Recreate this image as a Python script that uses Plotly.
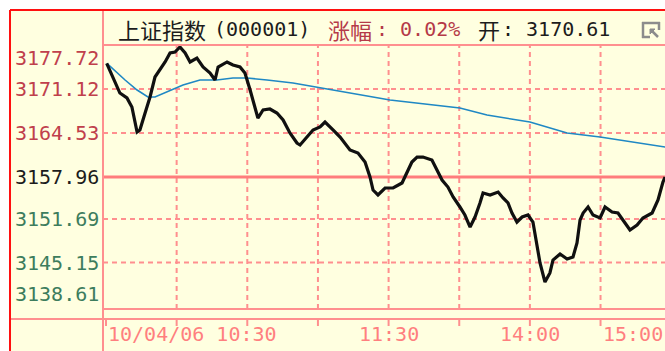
import plotly.graph_objects as go

# ---------------- data ----------------
# trading minutes since 09:30 (lunch break removed; 120 = 11:30/13:00, 240 = 15:00)
price_min = [0.3, 3.0, 5.9, 8.9, 11.0, 13.2, 14.4, 16.6, 18.7, 20.8, 22.9, 25.1, 27.2, 29.3,
             31.4, 33.6, 35.7, 38.6, 41.2, 44.2, 46.3, 47.6, 51.4, 53.9, 56.9, 59.0, 61.2,
             63.3, 64.5, 66.7, 69.6, 72.6, 75.2, 78.1, 81.1, 82.4, 85.4, 87.9, 90.9, 93.0,
             96.4, 99.4, 103.6, 107.0, 110.0, 112.1, 113.4, 115.5, 118.5, 121.9, 125.7,
             127.8, 129.9, 132.1, 134.6, 138.4, 140.6, 142.7, 145.2, 147.4, 150.3, 152.4,
             154.6, 156.7, 158.8, 160.1, 163.1, 166.5, 168.6, 170.7, 172.4, 174.5, 176.7,
             179.2, 181.3, 183.0, 184.3, 186.4, 188.5, 189.8, 192.8, 195.8, 198.3, 200.0,
             201.3, 202.6, 204.7, 206.8, 209.8, 211.9, 214.9, 217.4, 220.4, 222.5, 225.5,
             228.0, 231.9, 234.4, 236.5, 237.4]
price_val = [3174.98, 3172.93, 3170.53, 3169.79, 3168.44, 3164.70, 3165.00, 3167.54, 3169.94,
             3172.93, 3173.98, 3175.18, 3176.52, 3176.67, 3177.42, 3176.52, 3175.18, 3175.77,
             3174.43, 3173.53, 3172.48, 3174.43, 3175.18, 3174.73, 3174.43, 3173.53, 3170.98,
             3168.44, 3166.79, 3167.99, 3168.14, 3167.54, 3166.49, 3164.55, 3163.05, 3162.75,
             3163.95, 3165.00, 3165.45, 3166.19, 3165.00, 3163.95, 3162.00, 3161.55, 3160.21,
             3157.96, 3156.01, 3155.27, 3156.31, 3156.31, 3157.06, 3158.71, 3160.21, 3160.95,
             3160.95, 3160.50, 3159.01, 3157.51, 3156.46, 3154.97, 3153.47, 3152.27, 3150.47,
             3151.97, 3154.07, 3155.56, 3155.27, 3155.71, 3154.82, 3154.07, 3152.57, 3151.22,
             3151.97, 3152.27, 3151.22, 3148.08, 3145.09, 3142.24, 3143.59, 3145.53, 3146.43,
             3145.68, 3145.98, 3148.08, 3151.52, 3152.57, 3153.47, 3152.27, 3151.82, 3153.47,
             3152.72, 3152.57, 3151.07, 3150.03, 3150.77, 3151.82, 3152.57, 3154.52, 3157.21,
             3157.96]

avg_min = [0.4, 8.1, 13.2, 17.8, 20.8, 25.9, 32.7, 39.9, 47.1, 53.9, 59.9, 68.4, 79.4,
           120.6, 138.9, 150.3, 161.8, 180.0, 195.8, 209.8, 237.4]
avg_val = [3174.98, 3172.48, 3170.98, 3169.94, 3169.94, 3170.68, 3171.73, 3172.48, 3172.48,
           3172.78, 3172.78, 3172.48, 3172.03, 3169.49, 3168.74, 3168.29, 3167.24, 3166.19,
           3164.55, 3163.95, 3162.45]

prev_close = 3157.96
y_ticks = [3177.72, 3171.12, 3164.53, 3157.96, 3151.69, 3145.15, 3138.61]
y_tick_text = ["3177.72", "3171.12", "3164.53", "3157.96", "3151.69", "3145.15", "3138.61"]
grid_minutes = [30, 60, 90, 120, 150, 180, 210]
tick_minutes = [0, 30, 60, 90, 120, 150, 180, 210]
x_label_minutes = [60, 120, 180, 240]
x_labels = ["10/04/06 10:30", "11:30", "14:00", "15:00"]

title_name = "上证指数"
title_code = "(000001)"
chg_label = "涨幅"
chg_value = ": 0.02%"
open_label = "开"
open_value = ": 3170.61"

# ---------------- layout helpers ----------------
W, H = 665, 351
L, R, T, B = 103, 0, 45, 42
PW, PH = W - L - R, H - T - B
X0_MIN, X1_MIN = -1.27, 237.37


def px(x):
    return (x - L) / PW


def py(y):
    return (H - B - y) / PH


def minute_to_paper(m):
    return (m - X0_MIN) / (X1_MIN - X0_MIN)


MONO = "DejaVu Sans Mono"
CJK = "Noto Sans CJK SC"
BG = "#ffffe0"
PINK = "#ff8f8f"
RED_T = "#c0404c"
GREEN_T = "#3d7d5d"
BLACK_T = "#1c1c1c"

fig = go.Figure()
fig.add_trace(go.Scatter(x=avg_min, y=avg_val, mode="lines",
                         line=dict(color="#1f88c4", width=1.6), hoverinfo="skip"))
fig.add_trace(go.Scatter(x=price_min, y=price_val, mode="lines",
                         line=dict(color="#101010", width=3.2), hoverinfo="skip"))

shapes = []
# yellow panel
shapes.append(dict(type="rect", xref="paper", yref="paper", x0=px(10), x1=px(W + 5),
                   y0=py(H + 5), y1=py(10), fillcolor=BG, line=dict(width=0), layer="below"))
# horizontal grid
for v in y_ticks[1:-1]:
    if v == prev_close:
        continue
    shapes.append(dict(type="line", xref="paper", yref="y", x0=0, x1=1, y0=v, y1=v,
                       line=dict(color=PINK, width=2, dash="5px,4px"), layer="below"))
# vertical grid
for m in grid_minutes:
    shapes.append(dict(type="line", xref="x", yref="paper", x0=m, x1=m, y0=0, y1=1,
                       line=dict(color=PINK, width=2, dash="5px,4px"), layer="below"))
# previous close solid line
shapes.append(dict(type="line", xref="paper", yref="y", x0=0, x1=1, y0=prev_close, y1=prev_close,
                   line=dict(color="#ff7c7c", width=3), layer="below"))
# frame lines
shapes += [
    dict(type="line", xref="paper", yref="paper", x0=px(103), x1=px(103), y0=py(10), y1=py(H + 2),
         line=dict(color=PINK, width=2), layer="above"),
    dict(type="line", xref="paper", yref="paper", x0=px(103), x1=px(W + 2), y0=py(45), y1=py(45),
         line=dict(color=PINK, width=2), layer="above"),
    dict(type="line", xref="paper", yref="paper", x0=px(103), x1=px(W + 2), y0=py(309), y1=py(309),
         line=dict(color=PINK, width=2), layer="above"),
    dict(type="line", xref="paper", yref="paper", x0=px(10), x1=px(W + 2), y0=py(319), y1=py(319),
         line=dict(color=PINK, width=2), layer="above"),
    dict(type="line", xref="paper", yref="paper", x0=px(10), x1=px(W + 2), y0=py(10), y1=py(10),
         line=dict(color="#ff1010", width=2), layer="above"),
    dict(type="line", xref="paper", yref="paper", x0=px(10), x1=px(10), y0=py(10), y1=py(H + 2),
         line=dict(color="#ff1010", width=2), layer="above"),
]
# axis ticks
for m in tick_minutes:
    shapes.append(dict(type="line", xref="x", yref="paper", x0=m, x1=m, y0=py(319), y1=py(326),
                       line=dict(color=PINK, width=2), layer="above"))
# icon at top right
ICON = "#8c8c8c"
icon_lines = [(642, 23, 660, 23), (643, 22, 643, 38), (642, 37, 650, 37), (659, 22, 659, 30),
              (651, 30, 658, 37)]
for x0, y0, x1, y1 in icon_lines:
    shapes.append(dict(type="line", xref="paper", yref="paper", x0=px(x0), x1=px(x1),
                       y0=py(y0), y1=py(y1), line=dict(color=ICON, width=2.5), layer="above"))
shapes.append(dict(type="path", xref="paper", yref="paper",
                   path=f"M {px(650)} {py(29)} L {px(655)} {py(29)} L {px(650)} {py(34)} Z",
                   fillcolor=ICON, line=dict(color=ICON, width=1), layer="above"))

ann = []
# y labels
for v, t in zip(y_ticks, y_tick_text):
    col = RED_T if v > prev_close else (BLACK_T if v == prev_close else GREEN_T)
    if v == y_ticks[0]:
        yy, anchor, shift = py(45), "top", 1
    elif v == y_ticks[-1]:
        yy, anchor, shift = py(308), "bottom", 0
    else:
        yy, anchor, shift = None, "middle", 0
    a = dict(text=t, xref="paper", x=px(101), xanchor="right", showarrow=False,
             font=dict(family=MONO, size=20, color=col), yanchor=anchor, yshift=shift)
    if yy is None:
        a.update(yref="y", y=v)
    else:
        a.update(yref="paper", y=yy)
    ann.append(a)

# x labels (the last one is kept inside the visible right edge)
for m, t in zip(x_label_minutes, x_labels):
    a = dict(text=t, xref="paper", x=minute_to_paper(m), yref="paper", y=py(334),
             yanchor="middle", showarrow=False,
             font=dict(family=MONO, size=20, color="#ff7f7f"))
    if m == x_label_minutes[0]:
        a.update(xanchor="right", xshift=32)
    elif m == x_label_minutes[-1]:
        a.update(x=px(W), xanchor="right", xshift=0)
    else:
        a.update(xanchor="center")
    ann.append(a)

# title row
title_parts = [
    (title_name, 116, CJK, 22, BLACK_T),
    (title_code, 212, MONO, 20, BLACK_T),
    (chg_label, 326, CJK, 22, "#b53a48"),
    (chg_value, 374, MONO, 20, "#b53a48"),
    (open_label, 476, CJK, 22, BLACK_T),
    (open_value, 500, MONO, 20, BLACK_T),
]
for t, x, fam, size, col in title_parts:
    ann.append(dict(text=t, xref="paper", x=px(x), xanchor="left", yref="paper", y=py(29),
                    yanchor="middle", showarrow=False, font=dict(family=fam, size=size, color=col)))

fig.update_layout(
    width=W, height=H, margin=dict(l=L, r=R, t=T, b=B, pad=0),
    paper_bgcolor="white", plot_bgcolor="rgba(0,0,0,0)",
    showlegend=False, shapes=shapes, annotations=ann,
    xaxis=dict(range=[X0_MIN, X1_MIN], showgrid=False, zeroline=False, showticklabels=False,
               showline=False, ticks=""),
    yaxis=dict(range=[3138.20, 3177.72], showgrid=False, zeroline=False, showticklabels=False,
               showline=False, ticks=""),
)

fig.write_html("out.html", config={"displayModeBar": False},
               post_script="document.body.style.margin='0px';document.body.style.overflow='hidden';")
